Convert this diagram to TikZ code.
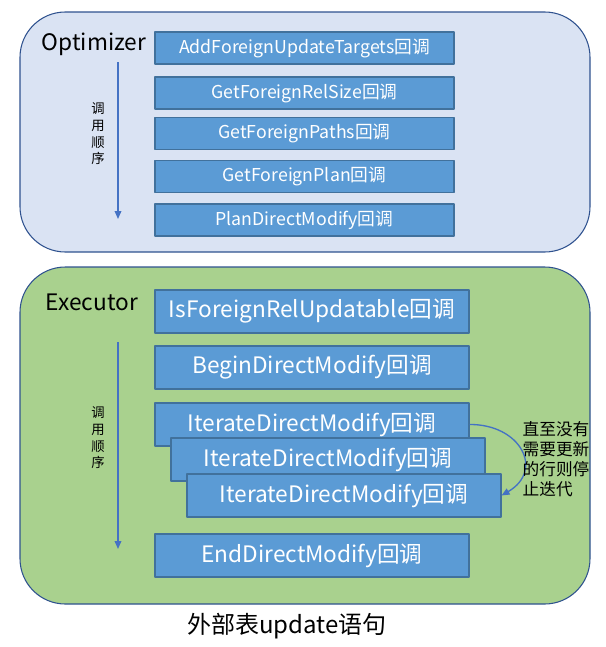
\documentclass[tikz,border=0pt]{standalone}
\usepackage{fontspec}
\setmainfont{Noto Sans CJK SC}
\usetikzlibrary{arrows.meta}
\definecolor{panelblue}{HTML}{DAE3F3}
\definecolor{panelgreen}{HTML}{A9D18E}
\definecolor{panelline}{HTML}{2F528F}
\definecolor{boxfill}{HTML}{5B9BD5}
\definecolor{boxline}{HTML}{41719C}
\definecolor{arrowblue}{HTML}{4472C4}
\tikzset{
  cbox/.style={draw=boxline,fill=boxfill,text=white,inner sep=0pt,line width=0.8pt},
  optbox/.style={cbox,minimum width=224.25pt,minimum height=24pt,font=\fontsize{13.3}{16}\selectfont},
  exebox/.style={cbox,minimum width=235.5pt,minimum height=32.25pt,font=\fontsize{17}{20}\selectfont},
  order/.style={draw=arrowblue,line width=1pt,-{Triangle[length=6pt,width=5pt]}},
  ordertext/.style={align=center,font=\fontsize{10}{12.5}\selectfont},
}
\begin{document}
\begin{tikzpicture}[x=0.75pt,y=-0.75pt,join=round]
   \useasboundingbox (0,0) rectangle (606,647);
   % panels
   \filldraw[fill=panelblue,draw=panelline,line width=0.8pt,rounded corners=34pt] (20,12) rectangle (590,252);
   \filldraw[fill=panelgreen,draw=panelline,line width=0.8pt,rounded corners=34pt] (20,267) rectangle (590,604);
   % optimizer
   \node[font=\fontsize{17}{20}\selectfont] (opt) at (94,44) {Optimizer};
   \node[optbox] (addtgt) at (304.5,48) {AddForeignUpdateTargets回调};
   \node[optbox] (relsize) at (304.5,93) {GetForeignRelSize回调};
   \node[optbox] (paths) at (304.5,133.5) {GetForeignPaths回调};
   \node[optbox] (plan) at (304.5,176.5) {GetForeignPlan回调};
   \node[optbox] (plandm) at (304.5,220) {PlanDirectModify回调};
   \coordinate (opttop) at (118,62);
   \coordinate (optbot) at (118,219);
   \draw[order] (opttop) -- (optbot);
   \node[ordertext] (optord) at (98,134) {调\\用\\顺\\序};
   % executor
   \node[font=\fontsize{17}{20}\selectfont] (exe) at (92,302) {Executor};
   \node[exebox] (updatable) at (312,311.5) {IsForeignRelUpdatable回调};
   \node[exebox] (begindm) at (312,367.5) {BeginDirectModify回调};
   \node[exebox] (iter1) at (312,424.5) {IterateDirectModify回调};
   \node[exebox] (iter2) at (328,459.5) {IterateDirectModify回调};
   \node[exebox] (iter3) at (344,495.5) {IterateDirectModify回调};
   \node[exebox] (enddm) at (312,555.5) {EndDirectModify回调};
   \coordinate (exetop) at (118,342);
   \coordinate (exebot) at (118,549);
   \draw[order] (exetop) -- (exebot);
   \node[ordertext] (exeord) at (98,438) {调\\用\\顺\\序};
   \draw[order] (iter1.east) .. controls (520,424) and (545,470) .. (iter3.east);
   \node[align=left,font=\fontsize{12.5}{15}\selectfont,inner sep=0pt] (stop) at (556,459) {直至没有\\需要更新\\的行则停\\止迭代};
   % caption
   \node[font=\fontsize{18}{20}\selectfont] (caption) at (287,626) {外部表update语句};
\end{tikzpicture}
\end{document}
